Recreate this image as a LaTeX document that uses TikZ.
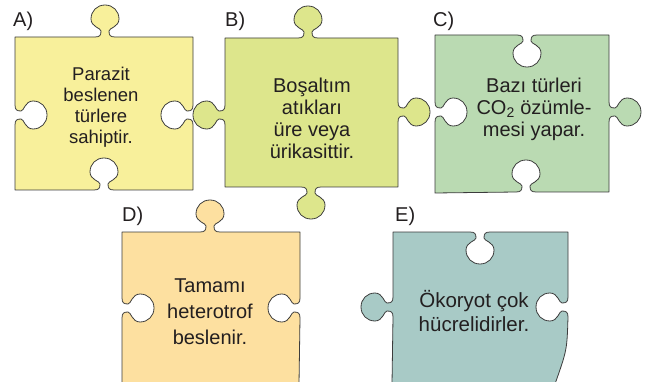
\documentclass[tikz,border=0pt]{standalone}
\usepackage{fontspec}
\setmainfont{Liberation Sans}
\definecolor{ink}{HTML}{231F20}
\definecolor{rim}{HTML}{3C3C3C}
\definecolor{pieceA}{HTML}{F8F09B}
\definecolor{pieceB}{HTML}{DDE68C}
\definecolor{pieceC}{HTML}{BADAB2}
\definecolor{pieceD}{HTML}{FDE0A0}
\definecolor{pieceE}{HTML}{A8CAC6}
% knob on a horizontal edge: centre x, edge y, side of the bump, direction of travel
\newcommand\hknob[4]{%
  -- ({#1-(#4)*10},#2)
  .. controls ({#1-(#4)*5},#2) and ({#1-(#4)*4},{#2+(#3)*2}) .. ({#1-(#4)*4},{#2+(#3)*6})
  .. controls ({#1-(#4)*4},{#2+(#3)*9}) and ({#1-(#4)*14},{#2+(#3)*10}) .. ({#1-(#4)*14},{#2+(#3)*18})
  .. controls ({#1-(#4)*14},{#2+(#3)*26}) and ({#1-(#4)*8},{#2+(#3)*32}) .. (#1,{#2+(#3)*32})
  .. controls ({#1+(#4)*8},{#2+(#3)*32}) and ({#1+(#4)*14},{#2+(#3)*26}) .. ({#1+(#4)*14},{#2+(#3)*18})
  .. controls ({#1+(#4)*14},{#2+(#3)*10}) and ({#1+(#4)*4},{#2+(#3)*9}) .. ({#1+(#4)*4},{#2+(#3)*6})
  .. controls ({#1+(#4)*4},{#2+(#3)*2}) and ({#1+(#4)*5},#2) .. ({#1+(#4)*10},#2)}
% knob on a vertical edge: centre y, edge x, side of the bump, direction of travel
\newcommand\vknob[4]{%
  -- (#2,{#1-(#4)*10})
  .. controls (#2,{#1-(#4)*5}) and ({#2+(#3)*2},{#1-(#4)*4}) .. ({#2+(#3)*6},{#1-(#4)*4})
  .. controls ({#2+(#3)*9},{#1-(#4)*4}) and ({#2+(#3)*10},{#1-(#4)*14}) .. ({#2+(#3)*18},{#1-(#4)*14})
  .. controls ({#2+(#3)*26},{#1-(#4)*14}) and ({#2+(#3)*32},{#1-(#4)*8}) .. ({#2+(#3)*32},#1)
  .. controls ({#2+(#3)*32},{#1+(#4)*8}) and ({#2+(#3)*26},{#1+(#4)*14}) .. ({#2+(#3)*18},{#1+(#4)*14})
  .. controls ({#2+(#3)*10},{#1+(#4)*14}) and ({#2+(#3)*9},{#1+(#4)*4}) .. ({#2+(#3)*6},{#1+(#4)*4})
  .. controls ({#2+(#3)*2},{#1+(#4)*4}) and (#2,{#1+(#4)*5}) .. (#2,{#1+(#4)*10})}
\tikzset{
  piece/.style={draw=rim, line width=0.8pt, line join=round},
  tag/.style={anchor=base west, inner sep=0pt, text=ink, font=\fontsize{20}{24}\selectfont},
  txt/.style={align=center, inner sep=0pt, text=ink}
}
\begin{document}
\begin{tikzpicture}[x=1pt,y=-1pt]
\useasboundingbox (0,0) rectangle (650,382);
% pieces
\draw[piece, fill=pieceA] (15,37) \hknob{105}{37}{-1}{1} -- (193,37) \vknob{115}{193}{-1}{1} -- (193,190) \hknob{104}{190}{-1}{-1} -- (15,190) \vknob{115}{15}{1}{-1} -- cycle;
\draw[piece, fill=pieceB] (225,38) \hknob{308}{38}{-1}{1} -- (398,38) \vknob{112}{398}{1}{1} -- (398,187) \hknob{311}{187}{1}{-1} -- (225,187) \vknob{115}{225}{-1}{-1} -- cycle;
\draw[piece, fill=pieceC] (435,35) \hknob{527}{35}{1}{1} -- (609,35) \vknob{112}{609}{1}{1} -- (609,192) \hknob{526}{192}{-1}{-1} -- (435,193) \vknob{112}{435}{1}{-1} -- cycle;
\draw[piece, fill=pieceD] (122,232) \hknob{210}{232}{-1}{1} -- (300,232) \vknob{308}{300}{-1}{1} -- (299,384) -- (122,384) \vknob{308}{122}{1}{-1} -- cycle;
\draw[piece, fill=pieceE] (393,232) \hknob{480}{232}{1}{1} -- (568,232) \vknob{307}{568}{-1}{1} .. controls (567,350) .. (555,384) -- (392,384) \vknob{307}{393}{-1}{-1} -- cycle;
% letters
\node[tag] (tagA) at (13,27) {A)};
\node[tag] (tagB) at (225,27) {B)};
\node[tag] (tagC) at (433,27) {C)};
\node[tag] (tagD) at (122,222) {D)};
\node[tag] (tagE) at (395,222) {E)};
% statements
\node[txt, font=\fontsize{18.5}{21}\selectfont] (textA) at (101,107) {Parazit\\beslenen\\türlere\\sahiptir.};
\node[txt, font=\fontsize{20}{22}\selectfont] (textB) at (312,118) {Boşaltım\\atıkları\\üre veya\\ürikasittir.};
\node[txt, font=\fontsize{20}{22}\selectfont] (textC) at (534,109) {Bazı türleri\\CO\textsubscript{2} özümle-\\mesi yapar.};
\node[txt, font=\fontsize{20}{26}\selectfont] (textD) at (210,312) {Tamamı\\heterotrof\\beslenir.};
\node[txt, font=\fontsize{20.5}{23.5}\selectfont] (textE) at (474,311) {Ökoryot çok\\hücrelidirler.};
\end{tikzpicture}
\end{document}
